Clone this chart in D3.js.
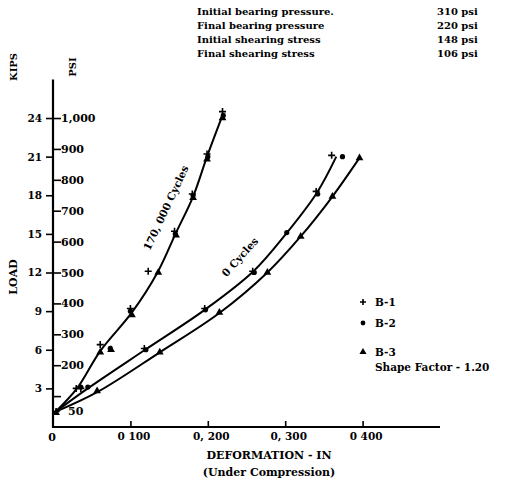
<!DOCTYPE html>
<html><head><meta charset="utf-8">
<script src="https://cdn.jsdelivr.net/npm/d3@7"></script>
<style>
body{margin:0;background:#fff}
svg{display:block}
text{font-family:"DejaVu Serif",serif;font-weight:bold;fill:#000}
</style>
</head><body><svg id="c" width="505" height="480"></svg>
<script>
// ---- data ----
const kipsTicks = [3, 6, 9, 12, 15, 18, 21, 24];
const psiTicks = [100, 200, 300, 400, 500, 600, 700, 800, 900, 1000];
const psiLabels = ["", "200", "300", "400", "500", "600", "700", "800", "900", "1,000"];
const deformTicks = [0.1, 0.2, 0.3, 0.4];
const deformLabels = ["0 100", "0, 200", "0, 300", "0 400"];

// fitted curves [deformation in, load kips]
const curve170k = [[0.003,1.17],[0.031,3.0],[0.061,5.9],[0.102,8.9],[0.135,12.0],[0.159,15.1],[0.181,17.9],[0.199,21.0],[0.219,24.2]];
const curve0B12 = [[0.003,1.17],[0.045,3.0],[0.119,6.0],[0.196,9.1],[0.259,12.1],[0.301,15.0],[0.341,18.2],[0.366,21.0]];
const curve0B3  = [[0.003,1.17],[0.057,2.7],[0.138,5.8],[0.215,8.85],[0.277,12.0],[0.320,14.8],[0.361,17.9],[0.396,20.9]];

// test points per specimen
const b1Points = [[0.004,1.2],[0.030,3.0],[0.061,6.4],[0.100,9.2],[0.123,12.1],[0.157,15.2],[0.180,18.1],[0.199,21.2],[0.219,24.5],
                  [0.036,3.0],[0.118,6.1],[0.196,9.2],[0.258,12.1],[0.340,18.3],[0.360,21.1]];
const b2Points = [[0.036,3.1],[0.074,6.1],[0.100,9.0],[0.158,15.0],[0.181,18.0],[0.200,21.0],[0.220,24.2],
                  [0.045,3.1],[0.120,6.0],[0.197,9.1],[0.260,12.0],[0.302,15.1],[0.342,18.1],[0.374,21.0]];
const b3Points = [[0.004,1.1],[0.061,5.8],[0.075,6.0],[0.102,8.7],[0.136,12.0],[0.159,14.9],[0.181,17.8],[0.199,20.8],[0.219,24.0],
                  [0.057,2.8],[0.138,5.8],[0.215,8.9],[0.277,12.0],[0.320,14.8],[0.361,17.9],[0.396,20.9]];

const infoLabels = ["Initial bearing pressure.", "Final bearing pressure", "Initial shearing stress", "Final shearing stress"];
const infoValues = ["310 psi", "220 psi", "148 psi", "106 psi"];
const legendNames = ["B-1", "B-2", "B-3"];
const curveNames = ["170, 000 Cycles", "0 Cycles"];

// ---- chart ----
const svg = d3.select("#c");
const x = d3.scaleLinear().domain([0, 0.5]).range([53, 440]);
const y = d3.scaleLinear().domain([0, 27]).range([427, 79.4]);
const yPsi = d3.scaleLinear().domain([0, 27 / 0.024]).range([427, 79.4]);

// y axis (kips, left ticks)
const gL = svg.append("g").attr("transform", "translate(53,0)")
  .call(d3.axisLeft(y).tickValues(kipsTicks).tickSize(7).tickPadding(4).tickSizeOuter(0));
gL.selectAll("text").style("font-size", "10.5px");
gL.select(".domain").remove();
// psi ticks right
const gR = svg.append("g").attr("transform", "translate(53,0)")
  .call(d3.axisRight(yPsi).tickValues(psiTicks).tickSize(8).tickPadding(0).tickFormat((d, i) => psiLabels[i]));
gR.selectAll("text").style("font-size", "11px");
gR.select(".domain").remove();
svg.selectAll(".tick line").attr("stroke", "#000").attr("stroke-width", 1.6);
svg.append("text").attr("x", 68).attr("y", yPsi(50)).attr("dy", "0.35em").style("font-size", "11px").text("50");

// x axis
const gX = svg.append("g").attr("transform", "translate(0,427)")
  .call(d3.axisBottom(x).tickValues(deformTicks).tickSize(-6).tickPadding(6).tickFormat((d, i) => deformLabels[i]));
gX.selectAll("text").style("font-size", "10.5px").attr("dx", "3px");
gX.select(".domain").remove();
gX.selectAll(".tick line").attr("stroke", "#000").attr("stroke-width", 1.6);
svg.append("text").attr("x", 52).attr("y", 441).attr("text-anchor", "middle").style("font-size", "11px").text("0");

// axis lines
svg.append("line").attr("x1", x(0)).attr("x2", x(0)).attr("y1", y(0) + 1).attr("y2", y(27))
  .attr("stroke", "#000").attr("stroke-width", 2.2);
svg.append("line").attr("x1", x(0)).attr("x2", x(0.5)).attr("y1", y(0)).attr("y2", y(0))
  .attr("stroke", "#000").attr("stroke-width", 2.2);

// axis titles
svg.append("text").attr("transform", "translate(13,67) rotate(-90)").attr("text-anchor", "middle").attr("dy", "0.35em").style("font-size", "10px").text("KIPS");
svg.append("text").attr("transform", "translate(72,67) rotate(-90)").attr("text-anchor", "middle").attr("dy", "0.35em").style("font-size", "10px").text("PSI");
svg.append("text").attr("transform", "translate(13,277) rotate(-90)").attr("text-anchor", "middle").attr("dy", "0.35em").style("font-size", "11px").text("LOAD");
svg.append("text").attr("x", 269).attr("y", 459).attr("text-anchor", "middle").style("font-size", "11px").text("DEFORMATION - IN");
svg.append("text").attr("x", 269).attr("y", 476).attr("text-anchor", "middle").style("font-size", "11px").text("(Under Compression)");

// top info block
const info = svg.append("g");
infoLabels.forEach((t, i) => {
  info.append("text").attr("x", 197).attr("y", 15 + i * 14).style("font-size", "10px").text(t);
  info.append("text").attr("x", 437).attr("y", 15 + i * 14).style("font-size", "10px").text(infoValues[i]);
});

// curves
const line = d3.line().x(d => x(d[0])).y(d => y(d[1])).curve(d3.curveCatmullRom.alpha(0.5));
[curve170k, curve0B12, curve0B3].forEach(c => {
  svg.append("path").attr("d", line(c)).attr("fill", "none").attr("stroke", "#000").attr("stroke-width", 2);
});

// markers
function plus(g, cx, cy, s) {
  g.append("path").attr("d", `M${cx - s},${cy}H${cx + s}M${cx},${cy - s}V${cy + s}`)
    .attr("stroke", "#000").attr("stroke-width", 1.6).attr("fill", "none");
}
const mk = svg.append("g");
b1Points.forEach(d => plus(mk, x(d[0]), y(d[1]), 3.5));
mk.selectAll("circle.b2").data(b2Points).join("circle").attr("class", "b2")
  .attr("cx", d => x(d[0])).attr("cy", d => y(d[1])).attr("r", 2.6).attr("fill", "#000");
const tri = d3.symbol().type(d3.symbolTriangle).size(26);
mk.selectAll("path.b3").data(b3Points).join("path").attr("class", "b3")
  .attr("transform", d => `translate(${x(d[0])},${y(d[1])})`).attr("d", tri).attr("fill", "#000");

// curve labels
svg.append("text").attr("transform", "translate(166,208) rotate(-65)").attr("text-anchor", "middle").attr("dy", "0.35em").style("font-size", "10.5px").text(curveNames[0]);
svg.append("text").attr("transform", "translate(240,257) rotate(-48)").attr("text-anchor", "middle").attr("dy", "0.35em").style("font-size", "10.5px").text(curveNames[1]);

// legend
const lg = svg.append("g");
const ly = [302, 323, 352];
plus(lg, 363, ly[0], 3);
lg.append("circle").attr("cx", 363).attr("cy", ly[1]).attr("r", 2.4).attr("fill", "#000");
lg.append("path").attr("transform", `translate(363,${ly[2]})`).attr("d", d3.symbol().type(d3.symbolTriangle).size(22)).attr("fill", "#000");
legendNames.forEach((n, i) => {
  lg.append("text").attr("x", 375).attr("y", ly[i]).attr("dy", "0.35em").style("font-size", "10.5px").text(n);
});
lg.append("text").attr("x", 375).attr("y", 367).attr("dy", "0.35em").style("font-size", "10.5px").text("Shape Factor - 1.20");
</script>
</body></html>
